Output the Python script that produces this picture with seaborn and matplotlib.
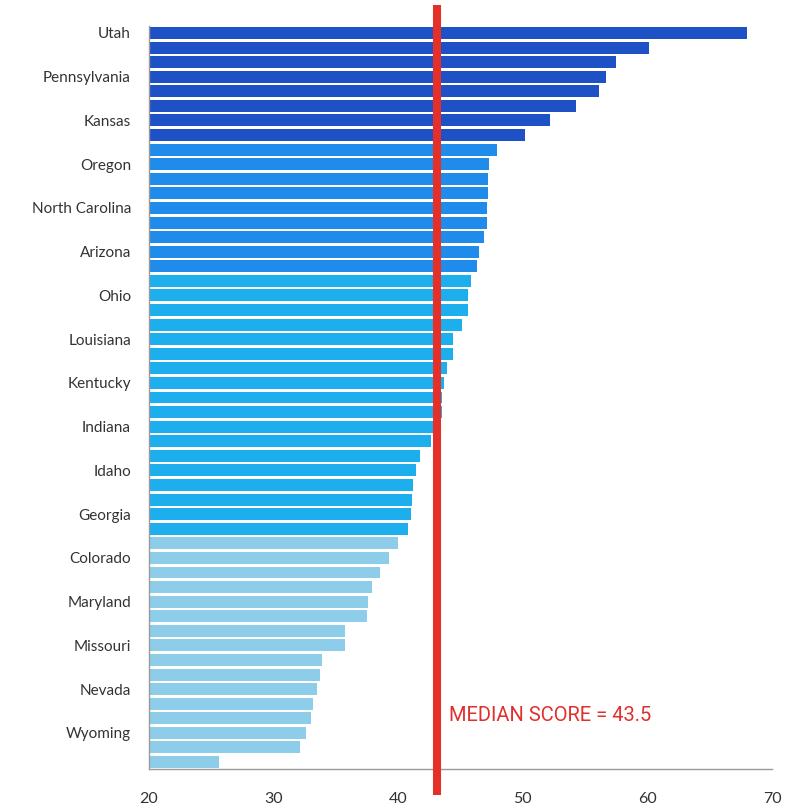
import matplotlib
matplotlib.use("Agg")
import matplotlib.pyplot as plt
import seaborn as sns
import pandas as pd

# ---- data ----
scores = [68.0, 60.1, 57.5, 56.7, 56.1, 54.3, 52.2, 50.2,
          47.9, 47.3, 47.2, 47.2, 47.1, 47.1, 46.85, 46.5, 46.3,
          45.85, 45.6, 45.6, 45.1, 44.4, 44.4, 43.9, 43.65, 43.5, 43.5,
          42.9, 42.6, 41.75, 41.4, 41.2, 41.1, 41.0, 40.8,
          40.0, 39.3, 38.5, 37.9, 37.6, 37.5, 35.75, 35.7, 33.9, 33.7,
          33.5, 33.2, 33.0, 32.6, 32.1, 25.6]
groups = ["top"] * 8 + ["upper"] * 9 + ["lower"] * 18 + ["bottom"] * 16
ranks = [str(i + 1) for i in range(len(scores))]
labeled_ranks = [1, 4, 7, 10, 13, 16, 19, 22, 25, 28, 31, 34, 37, 40, 43, 46, 49]
state_labels = ["Utah", "Pennsylvania", "Kansas", "Oregon", "North Carolina",
                "Arizona", "Ohio", "Louisiana", "Kentucky", "Indiana", "Idaho",
                "Georgia", "Colorado", "Maryland", "Missouri", "Nevada", "Wyoming"]
x_ticks = [20, 30, 40, 50, 60, 70]
median_value = 43.5
median_line_x = 43.1
median_text = "MEDIAN SCORE = 43.5"

palette = {"top": "#1E50C6", "upper": "#1F8BEA",
           "lower": "#1DAEEE", "bottom": "#8DCDEA"}

df = pd.DataFrame({"rank": ranks, "score": scores, "group": groups})

sns.set_theme(style="white")
plt.rcParams["font.family"] = ["Lato", "DejaVu Sans"]

fig = plt.figure(figsize=(7.87, 8.09), dpi=100)
ax = fig.add_axes([149 / 787, 1 - 768.6 / 809, (772 - 149) / 787, (768.6 - 25.7) / 809])

sns.barplot(data=df, x="score", y="rank", hue="group", palette=palette,
            dodge=False, width=0.82, linewidth=0, legend=False, ax=ax,
            orient="h", order=ranks, saturation=1)

ax.set_xlim(20, 70)
ax.set_ylim(len(scores) - 0.55, -0.5)
ax.set_xticks(x_ticks)
ax.set_xticklabels([str(t) for t in x_ticks], fontsize=11.5, color="#333333")
ax.set_yticks([r - 1 for r in labeled_ranks])
ax.set_yticklabels(state_labels, fontsize=11, color="#333333")
ax.tick_params(axis="x", length=0, pad=17)
ax.tick_params(axis="y", length=0, pad=13)
ax.set_xlabel("")
ax.set_ylabel("")

for s in ["top", "right"]:
    ax.spines[s].set_visible(False)
for s in ["left", "bottom"]:
    ax.spines[s].set_color("#9a9a9a")
    ax.spines[s].set_linewidth(1.0)

ax.axvline(median_line_x, ymin=-0.036, ymax=1.028, color="#E5302A",
           linewidth=5.8, clip_on=False, zorder=5, solid_capstyle="butt")
ax.text(44.1, 46.8, median_text, color="#E0302E", fontsize=14.5,
        fontfamily=["Roboto", "DejaVu Sans"], va="center", ha="left")

fig.savefig("out.png", dpi=100)
